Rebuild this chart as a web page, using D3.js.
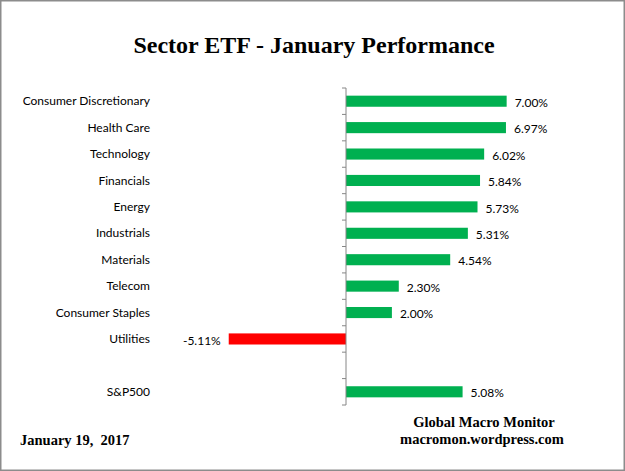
<!DOCTYPE html>
<html>
<head>
<meta charset="utf-8">
<script src="https://cdn.jsdelivr.net/npm/d3@7"></script>
<style>
  body { margin: 0; background: #fff; }
  svg { display: block; }
</style>
</head>
<body>
<div id="vis"></div>
<script>
// sectors, top to bottom (blank row between Utilities and S&P500)
var sectors = ["Consumer Discretionary", "Health Care", "Technology", "Financials", "Energy",
  "Industrials", "Materials", "Telecom", "Consumer Staples", "Utilities", "", "S&P500"];
var returns = [7.00, 6.97, 6.02, 5.84, 5.73, 5.31, 4.54, 2.30, 2.00, -5.11, null, 5.08];

var width = 625, height = 471;

var svg = d3.select("#vis").append("svg")
  .attr("width", width)
  .attr("height", height);

// outer frame
svg.append("rect")
  .attr("x", 0.75).attr("y", 0.75)
  .attr("width", width - 1.5).attr("height", height - 1.5)
  .attr("fill", "#fff")
  .attr("stroke", "#8c8c8c")
  .attr("stroke-width", 1.5);

svg.append("text")
  .attr("x", 314).attr("y", 53)
  .attr("text-anchor", "middle")
  .style("font-family", "'Liberation Serif', serif")
  .style("font-weight", "bold")
  .style("font-size", "24px")
  .text("Sector ETF - January Performance");

var xScale = d3.scaleLinear()
  .domain([-8, 8])
  .range([346 - 8 * 22.95, 346 + 8 * 22.95]);

var yScale = d3.scaleBand()
  .domain(d3.range(sectors.length))
  .range([88, 405])
  .paddingInner(0.58)
  .paddingOuter(0.29);

var step = yScale.step();

// category labels
svg.selectAll(".cat")
  .data(sectors)
  .enter().append("text")
  .attr("class", "cat")
  .attr("x", 150)
  .attr("y", function(d, i) { return yScale(i) + yScale.bandwidth() / 2; })
  .attr("dy", "0.35em")
  .attr("text-anchor", "end")
  .style("font-family", "Lato, sans-serif")
  .style("font-size", "12px")
  .style("fill", "#000")
  .text(function(d) { return d; });

var rows = returns.map(function(v, i) { return {i: i, v: v}; })
  .filter(function(d) { return d.v !== null; });

svg.selectAll(".bar")
  .data(rows)
  .enter().append("rect")
  .attr("class", "bar")
  .attr("x", function(d) { return xScale(Math.min(0, d.v)); })
  .attr("y", function(d) { return yScale(d.i); })
  .attr("width", function(d) { return Math.abs(xScale(d.v) - xScale(0)); })
  .attr("height", yScale.bandwidth())
  .attr("fill", function(d) { return d.v < 0 ? "#ff0000" : "#00b050"; });

svg.selectAll(".val")
  .data(rows)
  .enter().append("text")
  .attr("class", "val")
  .attr("x", function(d) { return d.v < 0 ? xScale(d.v) - 8 : xScale(d.v) + 8; })
  .attr("y", function(d) { return yScale(d.i) + yScale.bandwidth() / 2 + 1.5; })
  .attr("dy", "0.35em")
  .attr("text-anchor", function(d) { return d.v < 0 ? "end" : "start"; })
  .style("font-family", "Lato, sans-serif")
  .style("font-size", "12px")
  .text(function(d) { return d.v.toFixed(2) + "%"; });

// vertical category axis at zero
var axis = svg.append("g").attr("stroke", "#868686");
axis.append("line")
  .attr("x1", xScale(0)).attr("x2", xScale(0))
  .attr("y1", 88).attr("y2", 405);
axis.selectAll(".tick")
  .data(d3.range(sectors.length + 1))
  .enter().append("line")
  .attr("x1", xScale(0) - 4).attr("x2", xScale(0))
  .attr("y1", function(k) { return 88 + k * step; })
  .attr("y2", function(k) { return 88 + k * step; });

var serif = "'Liberation Serif', serif";
svg.append("text")
  .attr("x", 484).attr("y", 427)
  .attr("text-anchor", "middle")
  .style("font-family", serif).style("font-weight", "bold").style("font-size", "14.5px")
  .text("Global Macro Monitor");
svg.append("text")
  .attr("x", 482).attr("y", 444)
  .attr("text-anchor", "middle")
  .style("font-family", serif).style("font-weight", "bold").style("font-size", "14.5px")
  .text("macromon.wordpress.com");
svg.append("text")
  .attr("x", 20).attr("y", 445)
  .style("font-family", serif).style("font-weight", "bold").style("font-size", "14.5px")
  .style("white-space", "pre")
  .text("January 19,  2017");
</script>
</body>
</html>
